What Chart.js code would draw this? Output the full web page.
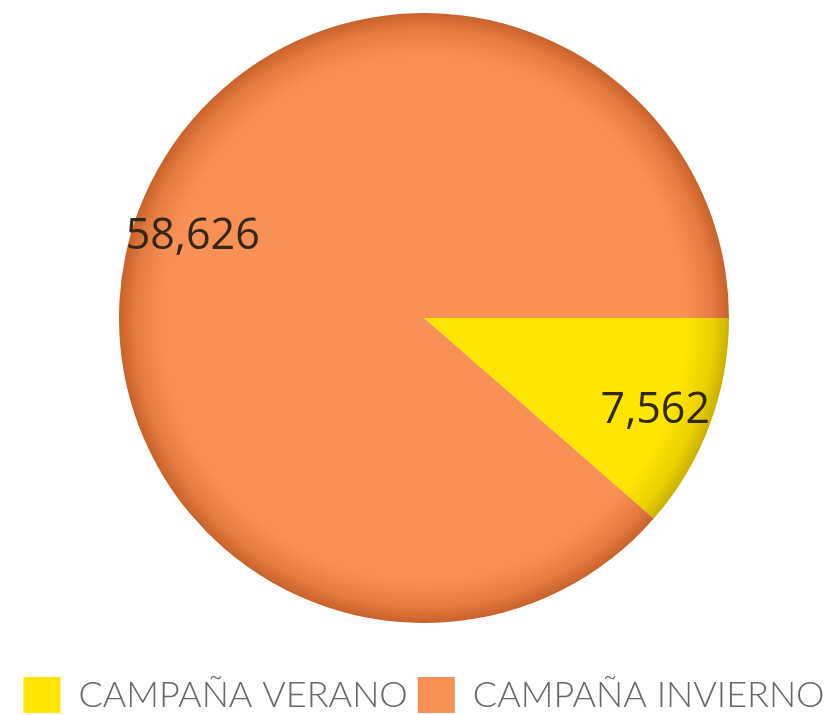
<!DOCTYPE html>
<html><head><meta charset="utf-8">
<script src="https://cdn.jsdelivr.net/npm/chart.js@4"></script>
<style>html,body{margin:0;padding:0;background:#fff;overflow:hidden}#wrap{width:838px;height:723px}</style>
</head><body><div id="wrap"><canvas id="c"></canvas></div>
<script>
const categories = ["CAMPAÑA VERANO", "CAMPAÑA INVIERNO"];
const values = [7562, 58626];
const baseColors = ["#FFE500", "#F99157"];
const midColors = ["#EBD200", "#E47A40"];
const edgeColors = ["#C9B000", "#C8612B"];

const shadePlugin = {
  id: 'shade',
  beforeDatasetsDraw(chart) {
    const meta = chart.getDatasetMeta(0);
    meta.data.forEach((arc, i) => {
      const g = chart.ctx.createRadialGradient(arc.x, arc.y, 0, arc.x, arc.y, arc.outerRadius);
      g.addColorStop(0, baseColors[i]);
      g.addColorStop(0.86, baseColors[i]);
      g.addColorStop(0.95, midColors[i]);
      g.addColorStop(1, edgeColors[i]);
      arc.options.backgroundColor = g;
    });
  }
};

const labelPlugin = {
  id: 'sliceLabels',
  afterDatasetsDraw(chart) {
    const c = chart.ctx;
    const meta = chart.getDatasetMeta(0);
    c.save();
    c.font = '43px "Open Sans", sans-serif';
    c.fillStyle = '#33261a';
    c.textAlign = 'center';
    c.textBaseline = 'middle';
    meta.data.forEach((arc, i) => {
      const mid = (arc.startAngle + arc.endAngle) / 2;
      const r = arc.outerRadius * 0.81;
      c.fillText(values[i].toLocaleString('en-US'), arc.x + Math.cos(mid) * r, arc.y + Math.sin(mid) * r + 6);
    });
    c.restore();
  }
};

new Chart(document.getElementById('c'), {
  type: 'pie',
  data: {
    labels: categories,
    datasets: [{ data: values, backgroundColor: baseColors, borderWidth: 0 }]
  },
  options: {
    responsive: true,
    maintainAspectRatio: false,
    animation: false,
    rotation: 90,
    layout: { padding: { top: 13, left: 10, bottom: 0 } },
    plugins: {
      tooltip: { enabled: false },
      legend: {
        position: 'bottom',
        title: { display: true, text: ' ', font: { size: 10 }, padding: 16 },
        labels: {
          boxWidth: 37, boxHeight: 36, padding: 10,
          color: '#444',
          font: { family: 'Lato', size: 36, weight: '300' },
          generateLabels(chart) {
            return categories.map((t, i) => ({ text: t, fillStyle: baseColors[i], strokeStyle: baseColors[i], lineWidth: 0, index: i }));
          }
        }
      }
    }
  },
  plugins: [shadePlugin, labelPlugin]
});
</script></body></html>
